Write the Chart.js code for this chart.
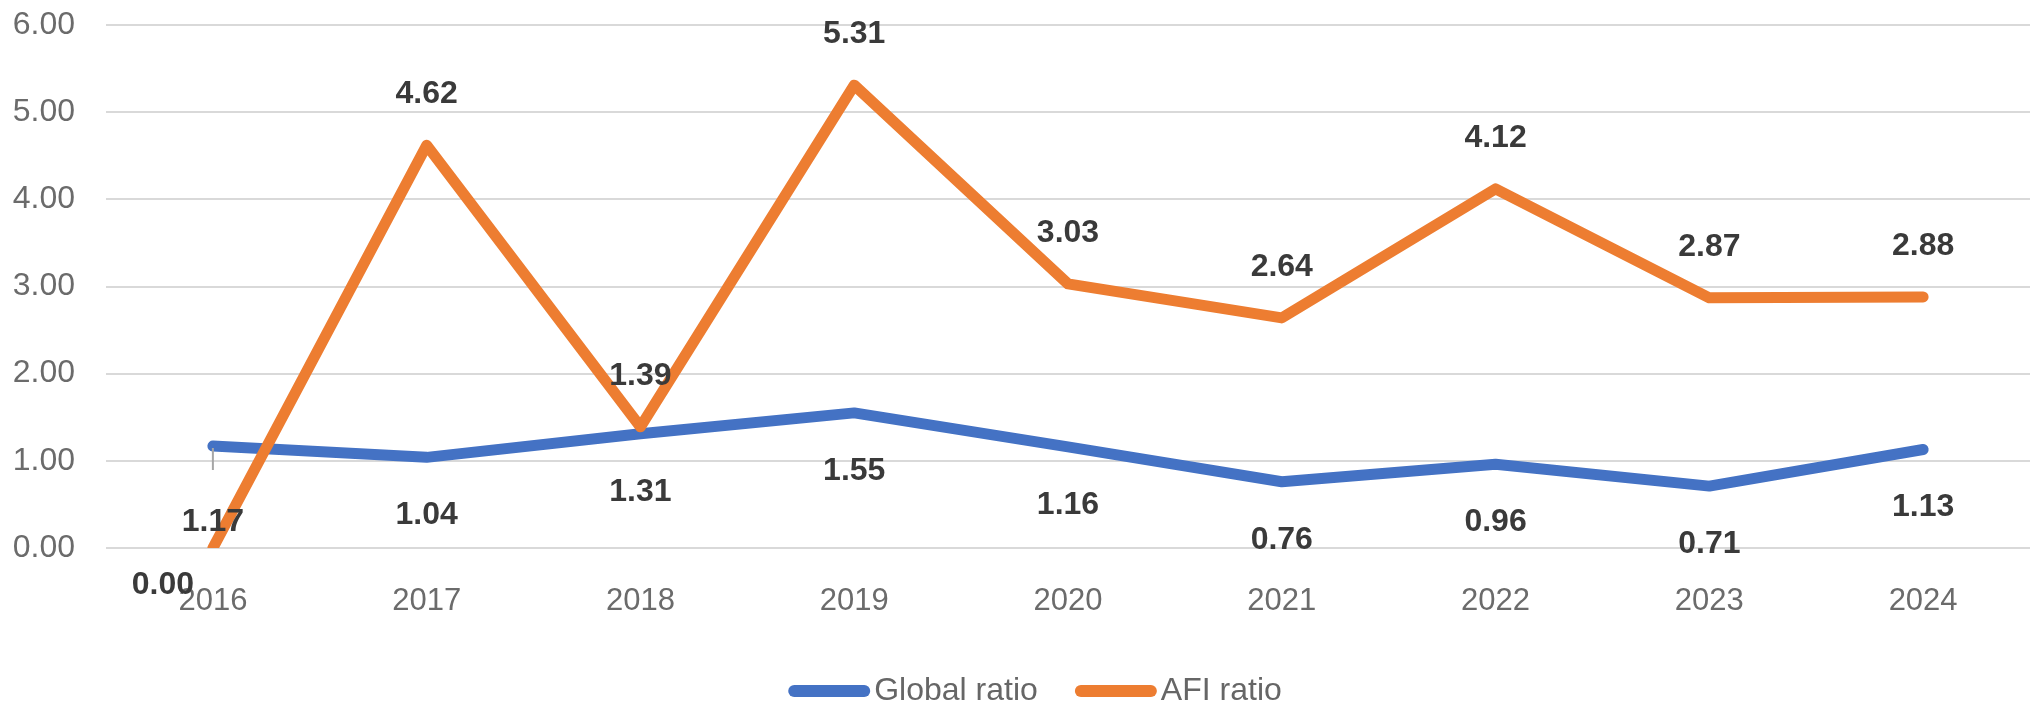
<!DOCTYPE html>
<html>
<head>
<meta charset="utf-8">
<script src="https://cdn.jsdelivr.net/npm/chart.js@4.4.1/dist/chart.umd.min.js"></script>
<style>
  html, body { margin: 0; padding: 0; background: #ffffff; }
  #wrap { width: 2036px; height: 708px; }
</style>
</head>
<body>
<div id="wrap"><canvas id="c" width="2036" height="708"></canvas></div>
<script>
// ---- data ----
const categories = ['2016', '2017', '2018', '2019', '2020', '2021', '2022', '2023', '2024'];
const globalRatio = [1.17, 1.04, 1.31, 1.55, 1.16, 0.76, 0.96, 0.71, 1.13];
const afiRatio = [0.00, 4.62, 1.39, 5.31, 3.03, 2.64, 4.12, 2.87, 2.88];
const yTicks = [0, 1, 2, 3, 4, 5, 6];

const FONT = '"Liberation Sans", Arial, sans-serif';
const BLUE = '#4472C4';
const ORANGE = '#ED7D31';

// value labels plugin (positions derived from the scale-computed points)
const valueLabels = {
  id: 'valueLabels',
  afterDatasetsDraw(chart) {
    const ctx = chart.ctx;
    ctx.save();
    ctx.font = 'bold 32px ' + FONT;
    ctx.fillStyle = '#3a3a3a';
    ctx.textAlign = 'center';
    ctx.textBaseline = 'middle';
    chart.data.datasets.forEach((ds, i) => {
      const meta = chart.getDatasetMeta(i);
      const below = ds.labelPos === 'below';
      meta.data.forEach((pt, j) => {
        const v = ds.data[j];
        let x = pt.x;
        let y = below ? pt.y + 58 : pt.y - 51;
        if (!below && v === 0) { x = pt.x - 50; y = pt.y + 37; }
        if (below && j === 0) {
          y = pt.y + 76;
          // leader line
          ctx.save();
          ctx.strokeStyle = '#a6a6a6';
          ctx.lineWidth = 2;
          ctx.beginPath();
          ctx.moveTo(pt.x, pt.y + 2);
          ctx.lineTo(pt.x, pt.y + 24);
          ctx.stroke();
          ctx.restore();
        }
        ctx.fillText(v.toFixed(2), x, y);
      });
    });
    ctx.restore();
  }
};

// legend plugin
const customLegend = {
  id: 'customLegend',
  afterDraw(chart) {
    const ctx = chart.ctx;
    ctx.save();
    ctx.font = '32px ' + FONT;
    const lineW = 82, gapText = 4, gapItem = 37;
    const items = chart.data.datasets.map(ds => ({
      label: ds.label, color: ds.borderColor, w: ctx.measureText(ds.label).width
    }));
    let total = 0;
    items.forEach((it, k) => { total += lineW + gapText + it.w + (k < items.length - 1 ? gapItem : 0); });
    let x = 1035 - total / 2;
    const y = 691;
    items.forEach(it => {
      ctx.strokeStyle = it.color;
      ctx.lineWidth = 12;
      ctx.lineCap = 'round';
      ctx.beginPath();
      ctx.moveTo(x + 6, y);
      ctx.lineTo(x + lineW - 6, y);
      ctx.stroke();
      x += lineW + gapText;
      ctx.fillStyle = '#666666';
      ctx.textAlign = 'left';
      ctx.textBaseline = 'middle';
      ctx.fillText(it.label, x, y);
      x += it.w + gapItem;
    });
    ctx.restore();
  }
};

new Chart(document.getElementById('c'), {
  type: 'line',
  data: {
    labels: categories,
    datasets: [
      {
        label: 'Global ratio',
        data: globalRatio,
        borderColor: BLUE,
        backgroundColor: BLUE,
        borderWidth: 11,
        pointRadius: 0,
        tension: 0,
        borderCapStyle: 'round',
        borderJoinStyle: 'round',
        order: 1,
        labelPos: 'below'
      },
      {
        label: 'AFI ratio',
        data: afiRatio,
        borderColor: ORANGE,
        backgroundColor: ORANGE,
        borderWidth: 11,
        pointRadius: 0,
        tension: 0,
        borderCapStyle: 'round',
        borderJoinStyle: 'round',
        order: 0,
        labelPos: 'above'
      }
    ]
  },
  options: {
    responsive: false,
    animation: false,
    devicePixelRatio: 1,
    layout: { padding: { top: 25, right: 6, bottom: 0, left: 0 } },
    plugins: {
      legend: { display: false },
      tooltip: { enabled: false }
    },
    scales: {
      x: {
        offset: true,
        grid: { display: false, drawTicks: false },
        border: { display: false },
        ticks: { color: '#6b6b6b', font: { family: FONT, size: 31 }, padding: 35, maxRotation: 0 },
        afterFit(scale) { scale.height = 160; scale.paddingLeft = 0; scale.paddingRight = 0; }
      },
      y: {
        min: 0,
        max: 6,
        afterBuildTicks(scale) { scale.ticks = yTicks.map(v => ({ value: v })); },
        grid: { color: '#d9d9d9', lineWidth: 2, drawTicks: false },
        border: { display: false },
        ticks: {
          color: '#6b6b6b',
          font: { family: FONT, size: 32 },
          padding: 31,
          callback: v => Number(v).toFixed(2)
        },
        afterFit(scale) { scale.width = 106; scale.paddingTop = 0; scale.paddingBottom = 0; }
      }
    }
  },
  plugins: [valueLabels, customLegend]
});
</script>
</body>
</html>
